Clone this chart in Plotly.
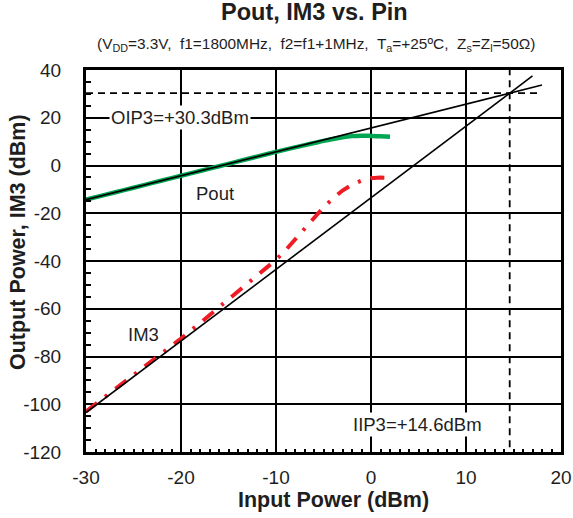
import plotly.graph_objects as go

# Measured output power vs. input power (dBm)
pin = [-30, -28, -26, -24, -22, -20, -18, -16, -14, -12, -10, -8, -6,
       -5, -4, -3, -2, -1, 0, 1, 2]
pout = [-14.3, -12.3, -10.3, -8.3, -6.3, -4.3, -2.3, -0.3, 1.7, 3.7, 5.7, 7.6, 9.4,
        10.3, 11.1, 11.8, 12.3, 12.5, 12.4, 12.2, 12.0]

# Measured third-order intermod products (dBm)
pin_im3 = [-30, -28, -26, -24, -22, -20, -18, -16, -14, -12, -10, -9, -8, -7, -6,
           -5, -4, -3, -2, -1, 0, 1, 2]
im3 = [-103, -97, -91, -85, -78.5, -72.5, -66, -59.5, -53, -46.5, -39.5, -35.5,
       -31, -26.5, -22, -17.5, -13.8, -10.5, -8, -6.3, -5.3, -5, -5.2]

# Intercept point and extrapolated small-signal fits
oip3 = 30.3
iip3 = 14.6
fit_pin_lin = [-30, 18]
fit_pin_im3 = [-30, 17]

fit_lin = [p + (oip3 - iip3) for p in fit_pin_lin]
fit_im3 = [3 * (p - iip3) + oip3 for p in fit_pin_im3]

# Axis ticks (plain hyphen for negatives)
x_ticks = [-30, -20, -10, 0, 10, 20]
x_tick_labels = ["-30", "-20", "-10", "0", "10", "20"]
y_ticks = [-120, -100, -80, -60, -40, -20, 0, 20, 40]
y_tick_labels = ["-120", "-100", "-80", "-60", "-40", "-20", "0", "20", "40"]

x_range = [-30, 20]
y_range = [-120, 40]

FONT = "Liberation Sans, Arial, sans-serif"
INK = "#1e1e1e"

fig = go.Figure()

fig.add_trace(go.Scatter(x=pin, y=pout, mode="lines",
                         line=dict(color="#00a651", width=4.5, shape="spline"),
                         showlegend=False))
fig.add_trace(go.Scatter(x=pin_im3, y=im3, mode="lines",
                         line=dict(color="#ee1c25", width=4, dash="14px,10px,3px,10px"),
                         showlegend=False))

# intercept guides
fig.add_trace(go.Scatter(x=[-30, 17.5], y=[oip3, oip3], mode="lines",
                         line=dict(color="black", width=1.8, dash="7px,5px"),
                         showlegend=False))
fig.add_trace(go.Scatter(x=[iip3, iip3], y=[-118, 40], mode="lines",
                         line=dict(color="black", width=1.8, dash="7px,5px"),
                         showlegend=False))

fig.add_trace(go.Scatter(x=fit_pin_lin, y=fit_lin, mode="lines",
                         line=dict(color="black", width=1.6), showlegend=False))
fig.add_trace(go.Scatter(x=fit_pin_im3, y=fit_im3, mode="lines",
                         line=dict(color="black", width=1.6), showlegend=False))

txt = dict(family=FONT, size=18.5, color=INK)

fig.add_annotation(x=-27.6, y=20, text="OIP3=+30.3dBm", showarrow=False,
                   xanchor="left", font=txt, bgcolor="white", borderpad=1)
fig.add_annotation(x=-16.4, y=-11.8, text="Pout", showarrow=False, font=txt)
fig.add_annotation(x=-24, y=-70.7, text="IM3", showarrow=False, font=txt)
fig.add_annotation(x=4.9, y=-108.6, text="IIP3=+14.6dBm", showarrow=False,
                   font=txt, bgcolor="white")

# title, conditions line and axis titles
paper_txt = dict(xref="paper", yref="paper", showarrow=False,
                 xanchor="center", yanchor="middle")
fig.add_annotation(x=0.5, y=1, xshift=-9, yshift=58,
                   text="<b>Pout, IM3 vs. Pin</b>",
                   font=dict(family=FONT, size=23.5, color=INK), **paper_txt)
fig.add_annotation(x=0.5, y=1, xshift=-8, yshift=26,
                   text="(V<sub>DD</sub>=3.3V,  f1=1800MHz,  f2=f1+1MHz,  T<sub>a</sub>=+25ºC,  Z<sub>s</sub>=Z<sub>l</sub>=50Ω)",
                   font=dict(family=FONT, size=15.4, color=INK), **paper_txt)
fig.add_annotation(x=0.5, y=0, xshift=10, yshift=-48,
                   text="<b>Input Power (dBm)</b>",
                   font=dict(family=FONT, size=21.5, color=INK), **paper_txt)
fig.add_annotation(x=0, y=0.5, xshift=-68, yshift=19,
                   text="<b>Output Power, IM3 (dBm)</b>", textangle=-90,
                   font=dict(family=FONT, size=21.5, color=INK), **paper_txt)

axis_common = dict(showline=True, linecolor="black", linewidth=3, mirror=True,
                   showgrid=True, gridcolor="black", gridwidth=1.6,
                   zeroline=False, ticks="inside", ticklen=5, tickwidth=2,
                   tickcolor="black", automargin=False,
                   tickfont=dict(family=FONT, size=19, color=INK))

fig.update_xaxes(range=x_range, tickmode="array", tickvals=x_ticks,
                 ticktext=x_tick_labels, ticklabelstandoff=6,
                 minor=dict(dtick=1, tick0=-30, ticks="inside", ticklen=3,
                            tickwidth=1.5, tickcolor="black", showgrid=False),
                 **axis_common)
fig.update_yaxes(range=y_range, tickmode="array", tickvals=y_ticks,
                 ticktext=y_tick_labels, ticklabelstandoff=18,
                 minor=dict(dtick=5, tick0=-120, ticks="inside", ticklen=5,
                            tickwidth=2, tickcolor="black", showgrid=False),
                 **axis_common)

fig.update_layout(
    width=573, height=518,
    margin=dict(l=86, r=12, t=70, b=66),
    paper_bgcolor="white", plot_bgcolor="white",
)

fig.write_html("out.html")
